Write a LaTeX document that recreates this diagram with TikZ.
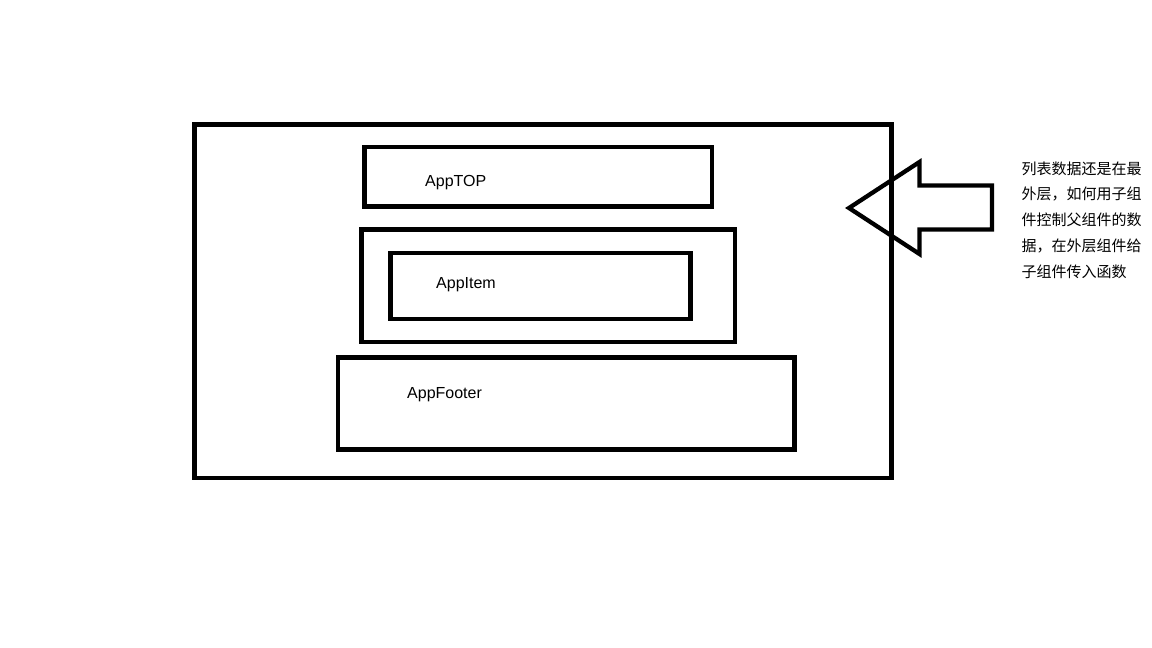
\documentclass[tikz,border=0pt]{standalone}
\usepackage{fontspec}
\setmainfont{Liberation Sans}
\newfontfamily\cjk{Noto Sans CJK SC}
\begin{document}
\begin{tikzpicture}[x=1pt,y=-1pt,
  frame/.style={draw=black,line width=4.5pt,inner sep=0pt,outer sep=0pt},
  lbl/.style={anchor=base west,inner sep=0pt,font=\fontsize{16}{19}\selectfont},
  note/.style={anchor=base west,inner sep=0pt,align=left,font=\cjk\fontsize{15}{25.7}\selectfont}]
\useasboundingbox[fill=white] (0,0) rectangle (1152,648);
% rectangles (centres and sizes in px)
\node[frame,minimum width=697pt,minimum height=353.5pt] (outer) at (543,301.25) {};
\node[frame,minimum width=347.5pt,minimum height=59.5pt] (top) at (538.25,176.75) {};
\node[frame,minimum width=373.5pt,minimum height=112.5pt] (itemouter) at (548.25,285.75) {};
\node[frame,minimum width=300pt,minimum height=66pt] (iteminner) at (540.5,286) {};
\node[frame,minimum width=456.5pt,minimum height=92pt] (footer) at (566.25,403.5) {};
% labels
\node[lbl] (ltop) at (425,186) {AppTOP};
\node[lbl] (litem) at (436,288) {AppItem};
\node[lbl] (lfooter) at (407,398) {AppFooter};
% arrow
\coordinate (tip) at (849,208);
\draw[line width=4.3pt,line join=miter] (tip) -- (919.5,162) -- (919.5,185.5) -- (992,185.5)
  -- (992,229.5) -- (919.5,229.5) -- (919.5,254) -- cycle;
% note
\node[note] (txt) at (1021.5,277) {列表数据还是在最\\外层，如何用子组\\件控制父组件的数\\据，在外层组件给\\子组件传入函数};
\end{tikzpicture}
\end{document}
